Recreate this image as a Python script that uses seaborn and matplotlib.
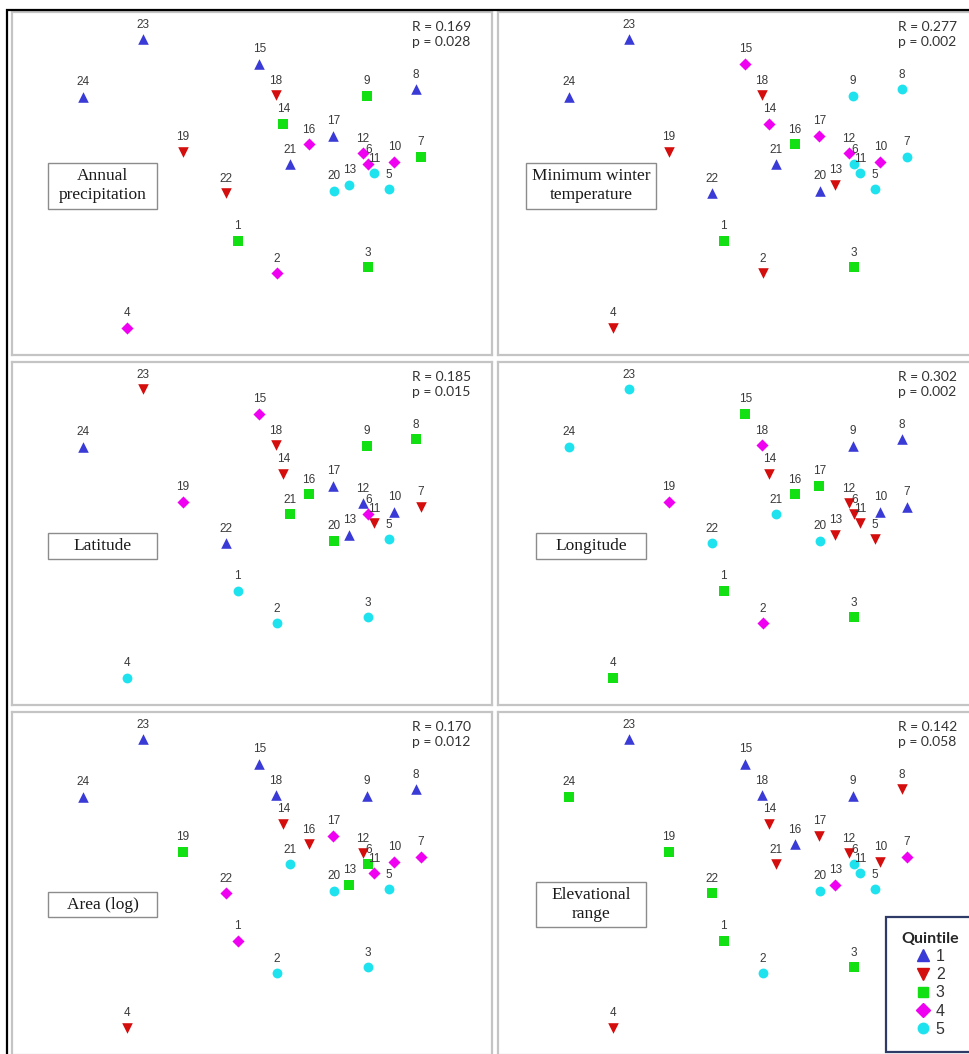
import matplotlib
matplotlib.use("Agg")
import matplotlib.pyplot as plt
from matplotlib.patches import Rectangle
import seaborn as sns
import pandas as pd

# NMDS site scores (same ordination in every panel)
site = list(range(1, 25))
nmds1 = [-0.089, 0.171, 0.780, -0.827, 0.922, 0.782, 1.131, 1.098, 0.773, 0.955, 0.820, 0.745,
         0.655, 0.215, 0.055, 0.387, 0.549, 0.165, -0.455, 0.551, 0.260, -0.169, -0.722, -1.120]
nmds2 = [-0.381, -0.599, -0.559, -0.963, -0.039, 0.128, 0.179, 0.628, 0.583, 0.145, 0.068, 0.201,
         -0.010, 0.397, 0.797, 0.261, 0.317, 0.588, 0.212, -0.048, 0.128, -0.065, 0.961, 0.579]

# quintile of each site for each variable (site 1..24)
q_precip = [3, 4, 3, 4, 5, 4, 3, 1, 3, 4, 5, 4, 5, 3, 1, 4, 1, 2, 2, 5, 1, 2, 1, 1]
q_wintertemp = [3, 2, 3, 2, 5, 5, 5, 5, 5, 4, 5, 4, 2, 4, 4, 3, 4, 2, 2, 1, 1, 1, 1, 1]
q_latitude = [5, 5, 5, 5, 5, 4, 2, 3, 3, 1, 2, 1, 1, 2, 4, 3, 1, 2, 4, 3, 3, 1, 2, 1]
q_longitude = [3, 4, 3, 3, 2, 2, 1, 1, 1, 1, 2, 2, 2, 2, 3, 3, 3, 4, 4, 5, 5, 5, 5, 5]
q_area = [4, 5, 5, 2, 5, 3, 4, 1, 1, 4, 4, 2, 3, 2, 1, 2, 4, 1, 3, 5, 5, 4, 1, 1]
q_elev = [3, 5, 3, 2, 5, 5, 4, 2, 1, 2, 5, 2, 4, 2, 1, 1, 2, 1, 3, 5, 2, 3, 1, 3]

panel_names = ["Annual\nprecipitation", "Minimum winter\ntemperature", "Latitude",
               "Longitude", "Area (log)", "Elevational\nrange"]
panel_quintiles = [q_precip, q_wintertemp, q_latitude, q_longitude, q_area, q_elev]
r_values = ["0.169", "0.277", "0.185", "0.302", "0.170", "0.142"]
p_values = ["0.028", "0.002", "0.015", "0.002", "0.012", "0.058"]

# label box placement (axes fraction: x0, y0, w, h)
label_boxes = [(0.075, 0.426, 0.227, 0.134), (0.058, 0.426, 0.271, 0.134),
               (0.075, 0.426, 0.227, 0.075), (0.079, 0.426, 0.229, 0.075),
               (0.075, 0.402, 0.227, 0.073), (0.079, 0.373, 0.229, 0.131)]

levels = ["1", "2", "3", "4", "5"]
palette = {"1": "#3a3ad6", "2": "#d40d0d", "3": "#12e012", "4": "#f000f0", "5": "#1ee3ef"}
markers = {"1": "^", "2": "v", "3": "s", "4": "D", "5": "o"}
sizes = {"1": 58, "2": 58, "3": 44, "4": 38, "5": 50}

sns.set_style("white")
plt.rcParams["font.family"] = ["Liberation Sans", "DejaVu Sans"]

W, H = 969, 1054
fig = plt.figure(figsize=(W / 100, H / 100), dpi=100)

# outer black frame (top and left visible, rest cut off)
fig.add_artist(Rectangle((7 / W, -0.05), 1.2, 1 - 10 / H + 0.05, transform=fig.transFigure,
                         fill=False, edgecolor="black", lw=1.6))

col_left = [12, 498]
row_top = [12, 362, 712]
pw, ph = 480, 343

for i in range(6):
    r, c = divmod(i, 2)
    ax = fig.add_axes([col_left[c] / W, 1 - (row_top[r] + ph) / H, pw / W, ph / H])
    df = pd.DataFrame({"site": site, "NMDS1": nmds1, "NMDS2": nmds2,
                       "Quintile": [str(q) for q in panel_quintiles[i]]})
    for lev in levels:
        sub = df[df["Quintile"] == lev]
        sns.scatterplot(data=sub, x="NMDS1", y="NMDS2", color=palette[lev], marker=markers[lev],
                        s=sizes[lev], linewidth=0, ax=ax, zorder=3)
    for _, row in df.iterrows():
        ax.annotate(str(row["site"]), (row["NMDS1"], row["NMDS2"]), xytext=(0, 10.5),
                    textcoords="offset points", ha="center", va="center",
                    fontsize=8.5, color="#3a3a3a", zorder=4)
    ax.set_xlim(-1.593, 1.607)
    ax.set_ylim(-1.143, 1.143)
    ax.set_xticks([])
    ax.set_yticks([])
    ax.set_xlabel("")
    ax.set_ylabel("")
    for sp in ax.spines.values():
        sp.set_color("#c4c4c4")
        sp.set_linewidth(1.6)

    x0, y0, bw, bh = label_boxes[i]
    ax.add_patch(Rectangle((x0, y0), bw, bh, transform=ax.transAxes, facecolor="white",
                           edgecolor="#8c8c8c", lw=1.0, zorder=5))
    ax.text(x0 + bw / 2, y0 + bh / 2, panel_names[i], transform=ax.transAxes, ha="center",
            va="center", fontsize=12.5, family="Liberation Serif", linespacing=1.25,
            color="#1a1a1a", zorder=6)

    ax.text(0.957, 0.975, f"R = {r_values[i]}\np = {p_values[i]}", transform=ax.transAxes,
            ha="right", va="top", fontsize=10, family=["Lato", "DejaVu Sans"],
            color="#333333", linespacing=1.35, multialignment="left")

# legend in the last panel
handles = [plt.Line2D([], [], linestyle="none", marker=markers[l], color=palette[l],
                      markersize=8.5 if l in "12" else 7.5) for l in levels]
leg = fig.legend(handles, levels, title="Quintile", loc="lower left",
                 bbox_to_anchor=(886 / W, 2 / H), bbox_transform=fig.transFigure,
                 borderaxespad=0, frameon=True, fancybox=False, framealpha=1,
                 handlelength=1.0, handletextpad=0.3, labelspacing=0.2, borderpad=0.95,
                 fontsize=11.5,
                 title_fontproperties={"family": "Lato", "weight": "bold", "size": 11.5})
leg.get_frame().set_edgecolor("#2e3b66")
leg.get_frame().set_linewidth(1.6)
for t in leg.get_texts():
    t.set_color("#333333")

fig.savefig("out.png", dpi=100)
